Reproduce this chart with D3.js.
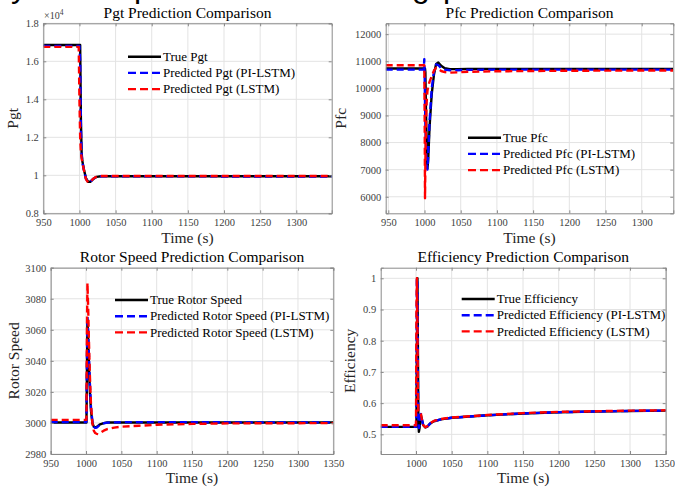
<!DOCTYPE html>
<html>
<head>
<meta charset="utf-8">
<script src="https://cdn.jsdelivr.net/npm/d3@7"></script>
<style>
  html, body { margin: 0; padding: 0; background: #fff; }
  svg { display: block; }
  text { font-family: "Liberation Serif", "Times New Roman", serif; }
</style>
</head>
<body>
<svg id="chart" width="675" height="492"></svg>
<script>
// ---------------- DATA ----------------
// Pgt panel (values in units of 10^4)
const pgtTime = [950, 999, 1000, 1001, 1002, 1003, 1004, 1006, 1009, 1012, 1015, 1019, 1024, 1030, 1100, 1200, 1349];
const pgtTrue = [1.686, 1.686, 1.686, 1.686, 1.30, 1.12, 1.075, 1.035, 0.985, 0.966, 0.966, 0.980, 0.992, 0.995, 0.995, 0.995, 0.995];
const pgtPI   = [1.681, 1.681, 1.681, 1.60, 1.25, 1.11, 1.07, 1.03, 0.982, 0.965, 0.966, 0.981, 0.993, 0.995, 0.995, 0.994, 0.994];
const pgtLSTM = [1.676, 1.676, 1.40, 1.20, 1.12, 1.09, 1.07, 1.03, 0.980, 0.962, 0.965, 0.982, 0.994, 0.996, 0.996, 0.996, 0.996];
const pgtXTicks = [950, 1000, 1050, 1100, 1150, 1200, 1250, 1300];
const pgtYTicks = [0.8, 1, 1.2, 1.4, 1.6, 1.8];

// Pfc panel
const pfcTime = [946.4, 999, 999.7, 1000.3, 1000.7, 1001.2, 1002, 1003, 1004, 1005, 1007, 1010, 1013, 1016, 1019, 1023, 1028, 1035, 1045, 1060, 1100, 1200, 1343.6];
const pfcTrue = [10730, 10730, 10730, 10730, 10730, 10600, 9200, 8000, 7050, 7300, 8600, 9800, 10500, 10900, 10950, 10830, 10740, 10710, 10710, 10715, 10720, 10720, 10720];
const pfcPI   = [10690, 10690, 11080, 10300, 9500, 8700, 7900, 7300, 7000, 7500, 8800, 10000, 10600, 10880, 10860, 10740, 10690, 10670, 10670, 10680, 10690, 10690, 10690];
const pfcLSTM = [10850, 10850, 10850, 8500, 5950, 7200, 8600, 9500, 9900, 10050, 10250, 10450, 10650, 10760, 10720, 10640, 10600, 10580, 10590, 10610, 10630, 10650, 10660];
const pfcXTicks = [950, 1000, 1050, 1100, 1150, 1200, 1250, 1300];
const pfcYTicks = [6000, 7000, 8000, 9000, 10000, 11000, 12000];

// Rotor speed panel
const rotTime = [950, 1000, 1000.6, 1001.3, 1002, 1003, 1004, 1005.5, 1007, 1009, 1011, 1013, 1015, 1017.5, 1020, 1025, 1030, 1040, 1050, 1075, 1100, 1150, 1200, 1250, 1350];
const rotTrue = [3000.3, 3000.3, 3000.3, 3030, 3066, 3055, 3040, 3020, 3008, 3000, 2997.6, 2997.1, 2997.4, 2998.3, 2999.1, 2999.9, 3000.3, 3000.3, 3000.3, 3000.3, 3000.3, 3000.3, 3000.3, 3000.3, 3000.3];
const rotPI   = [3000.5, 3000.5, 3001, 3040, 3069, 3060, 3045, 3025, 3010, 3001, 2997.5, 2996.8, 2997, 2998, 2999, 2999.8, 3000.2, 3000.4, 3000.5, 3000.5, 3000.5, 3000.5, 3000.4, 3000.4, 3000.4];
const rotLSTM = [3002, 3002, 3002, 3060, 3090, 3075, 3055, 3030, 3012, 3000, 2995, 2993.5, 2993, 2992.8, 2993.5, 2995, 2996, 2997, 2997.6, 2998.2, 2998.8, 2999.4, 2999.7, 2999.8, 2999.9];
const rotXTicks = [950, 1000, 1050, 1100, 1150, 1200, 1250, 1300, 1350];
const rotYTicks = [2980, 3000, 3020, 3040, 3060, 3080, 3100];

// Efficiency panel
const effTime = [950.5, 1000, 1000.6, 1001.2, 1002, 1002.6, 1003.3, 1004, 1005, 1006, 1007, 1008, 1010, 1013, 1016, 1020, 1025, 1035, 1050, 1075, 1100, 1150, 1200, 1250, 1300, 1350];
const effTrue = [0.524, 0.524, 0.524, 0.75, 1.0, 0.80, 0.55, 0.508, 0.52, 0.555, 0.56, 0.55, 0.53, 0.522, 0.525, 0.535, 0.542, 0.548, 0.553, 0.557, 0.561, 0.567, 0.571, 0.573, 0.575, 0.576];
const effPI   = [0.524, 0.524, 0.60, 1.0, 0.98, 0.70, 0.55, 0.52, 0.53, 0.56, 0.565, 0.55, 0.53, 0.522, 0.525, 0.535, 0.542, 0.548, 0.553, 0.557, 0.561, 0.567, 0.571, 0.573, 0.575, 0.576];
const effLSTM = [0.529, 0.529, 0.90, 1.0, 0.85, 0.62, 0.575, 0.575, 0.575, 0.57, 0.565, 0.55, 0.53, 0.523, 0.526, 0.536, 0.543, 0.549, 0.554, 0.558, 0.562, 0.568, 0.572, 0.574, 0.576, 0.577];
const effXTicks = [1000, 1050, 1100, 1150, 1200, 1250, 1300, 1350];
const effYTicks = [0.5, 0.6, 0.7, 0.8, 0.9, 1];

const seriesColors = ["#000000", "#0000ff", "#ff0000"];

// ---------------- DRAW ----------------
const svg = d3.select("#chart");

// cropped heading fragments at the very top of the image
const heading = svg.append("g").attr("font-size", 32).attr("fill", "#000");
[["y", 11], ["p", 134], ["g", 412], ["p", 443]].forEach(([ch, x]) => {
  heading.append("text").attr("x", x).attr("y", -3.5)
    .style("font-family", "Liberation Sans, Arial, sans-serif").text(ch);
});

let clipId = 0;
function panel(cfg) {
  const x = d3.scaleLinear().domain(cfg.xDomain).range([cfg.x0, cfg.x1]);
  const y = d3.scaleLinear().domain(cfg.yDomain).range([cfg.y1, cfg.y0]);
  const g = svg.append("g");
  const id = "clip" + (clipId++);
  svg.append("clipPath").attr("id", id).append("rect")
    .attr("x", cfg.x0).attr("y", cfg.y0).attr("width", cfg.x1 - cfg.x0).attr("height", cfg.y1 - cfg.y0);

  // grid
  const grid = g.append("g").attr("stroke", "#e3e3e3").attr("stroke-width", 1);
  cfg.xTicks.forEach(t => grid.append("line").attr("x1", x(t)).attr("x2", x(t)).attr("y1", cfg.y0).attr("y2", cfg.y1));
  cfg.yTicks.forEach(t => grid.append("line").attr("y1", y(t)).attr("y2", y(t)).attr("x1", cfg.x0).attr("x2", cfg.x1));

  // lines
  const line = d3.line().x((d, i) => x(cfg.time[i])).y(d => y(d));
  const lines = g.append("g").attr("clip-path", `url(#${id})`);
  cfg.series.forEach((s, k) => {
    lines.append("path").datum(s).attr("d", line).attr("fill", "none")
      .attr("stroke", seriesColors[k]).attr("stroke-width", 2.4)
      .attr("stroke-linejoin", "round")
      .attr("stroke-dasharray", k === 0 ? null : "7,4");
  });

  // axes with inward ticks on all sides
  const fmt = cfg.fmt || (d => String(d));
  const tl = 3;
  const axB = d3.axisBottom(x).tickValues(cfg.xTicks).tickSize(-tl).tickPadding(5.5).tickFormat(d3.format("d"));
  const axT = d3.axisTop(x).tickValues(cfg.xTicks).tickSize(-tl).tickFormat("");
  const axL = d3.axisLeft(y).tickValues(cfg.yTicks).tickSize(-tl).tickPadding(4.5).tickFormat(fmt);
  const axR = d3.axisRight(y).tickValues(cfg.yTicks).tickSize(-tl).tickFormat("");
  const axes = [
    [axB, `translate(0,${cfg.y1})`],
    [axT, `translate(0,${cfg.y0})`],
    [axL, `translate(${cfg.x0},0)`],
    [axR, `translate(${cfg.x1},0)`]
  ];
  axes.forEach(([ax, tr], i) => {
    const a = g.append("g").attr("transform", tr).call(ax);
    a.select(".domain").attr("stroke", "#8a8a8a").attr("stroke-width", 1);
    a.selectAll(".tick line").attr("stroke", "#8a8a8a");
    a.selectAll(".tick text").attr("fill", "#404040").attr("font-size", 10.5)
      .style("font-family", "Liberation Serif, serif");
    if (i === 0 && cfg.lastTickDx) {
      a.selectAll(".tick text").filter((d, j, n) => j === n.length - 1).attr("dx", cfg.lastTickDx);
    }
  });

  // title
  g.append("text").attr("x", (cfg.x0 + cfg.x1) / 2).attr("y", cfg.titleY)
    .attr("text-anchor", "middle").attr("font-size", 15.5).attr("fill", "#000").text(cfg.title);
  // x label
  g.append("text").attr("x", (cfg.x0 + cfg.x1) / 2).attr("y", cfg.xlabelY)
    .attr("text-anchor", "middle").attr("font-size", 15.5).attr("fill", "#262626").text("Time (s)");
  // y label
  g.append("text").attr("transform", `translate(${cfg.ylabelX},${(cfg.y0 + cfg.y1) / 2}) rotate(-90)`)
    .attr("text-anchor", "middle").attr("font-size", 15.5).attr("fill", "#262626").text(cfg.ylabel);

  // legend
  const lg = g.append("g");
  cfg.legend.forEach((name, k) => {
    const ly = cfg.legY + k * 16.2;
    lg.append("line").attr("x1", cfg.legX).attr("x2", cfg.legX + 33).attr("y1", ly).attr("y2", ly)
      .attr("stroke", seriesColors[k]).attr("stroke-width", 2.4)
      .attr("stroke-dasharray", k === 0 ? null : "8,4");
    lg.append("text").attr("x", cfg.legX + 35).attr("y", ly).attr("dy", "0.33em")
      .attr("font-size", 13).attr("fill", "#000").text(name);
  });
  return g;
}

const p1 = panel({
  x0: 43.3, x1: 331.7, y0: 23.3, y1: 213.3,
  xDomain: [950, 1349], yDomain: [0.8, 1.8],
  xTicks: pgtXTicks, yTicks: pgtYTicks,
  time: pgtTime, series: [pgtTrue, pgtPI, pgtLSTM],
  title: "Pgt Prediction Comparison", titleY: 18, xlabelY: 243, ylabel: "Pgt", ylabelX: 18,
  legend: ["True Pgt", "Predicted Pgt (PI-LSTM)", "Predicted Pgt (LSTM)"], legX: 128, legY: 56.7
});
// exponent label
const ex = p1.append("text").attr("x", 44).attr("y", 19).attr("font-size", 10).attr("fill", "#404040");
ex.append("tspan").text("\u00d710");
ex.append("tspan").attr("dy", -4).attr("font-size", 7.5).text("4");

panel({
  x0: 385.7, x1: 673.3, y0: 23.3, y1: 213.3,
  xDomain: [946.4, 1343.6], yDomain: [5390, 12400],
  xTicks: pfcXTicks, yTicks: pfcYTicks,
  time: pfcTime, series: [pfcTrue, pfcPI, pfcLSTM],
  title: "Pfc Prediction Comparison", titleY: 17.5, xlabelY: 243, ylabel: "Pfc", ylabelX: 346,
  legend: ["True Pfc", "Predicted Pfc (PI-LSTM)", "Predicted Pfc (LSTM)"], legX: 468, legY: 137.7
});

panel({
  x0: 50.7, x1: 333.3, y0: 267.7, y1: 454,
  xDomain: [950, 1350], yDomain: [2980, 3100],
  xTicks: rotXTicks, yTicks: rotYTicks,
  time: rotTime, series: [rotTrue, rotPI, rotLSTM],
  title: "Rotor Speed Prediction Comparison", titleY: 261.7, xlabelY: 483, ylabel: "Rotor Speed", ylabelX: 19,
  legend: ["True Rotor Speed", "Predicted Rotor Speed (PI-LSTM)", "Predicted Rotor Speed (LSTM)"], legX: 115, legY: 300
});

panel({
  x0: 380.7, x1: 665.7, y0: 267.7, y1: 454,
  xDomain: [950.5, 1350], yDomain: [0.437, 1.034],
  xTicks: effXTicks, yTicks: effYTicks,
  time: effTime, series: [effTrue, effPI, effLSTM],
  fmt: d => String(+d.toFixed(1)),
  lastTickDx: -1.8,
  title: "Efficiency Prediction Comparison", titleY: 261.7, xlabelY: 483, ylabel: "Efficiency", ylabelX: 355,
  legend: ["True Efficiency", "Predicted Efficiency (PI-LSTM)", "Predicted Efficiency (LSTM)"], legX: 461.7, legY: 299
});
</script>
</body>
</html>
